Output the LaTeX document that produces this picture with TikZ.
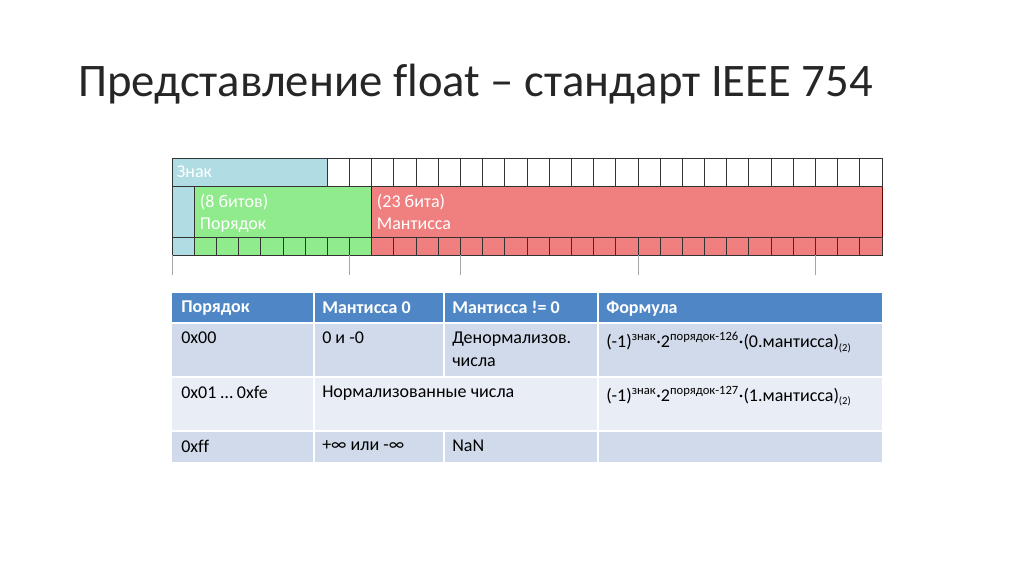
\documentclass[tikz,border=0pt]{standalone}
\usepackage{fontspec}
\setmainfont[Ligatures=NoCommon]{Carlito}
\definecolor{znakfill}{HTML}{B0DCE3}
\definecolor{porfill}{HTML}{90EB8C}
\definecolor{manfill}{HTML}{F08080}
\definecolor{headfill}{HTML}{4F87C6}
\definecolor{rowa}{HTML}{D0DAEA}
\definecolor{rowb}{HTML}{E9EEF6}
\tikzset{
  cell/.style={draw=black!80, line width=0.6pt},
  lbl/.style={anchor=north west, inner sep=2pt, font=\fontsize{13.5}{16.5}\selectfont, text=white, align=left},
  tcell/.style={anchor=north west, inner sep=0pt, font=\fontsize{13.5}{17}\selectfont, align=left},
  thead/.style={tcell, text=white, font=\bfseries\fontsize{13.5}{17}\selectfont},
  tick/.style={draw=black!35, line width=0.6pt}
}
\begin{document}
\begin{tikzpicture}[x=0.75pt,y=-0.75pt]
\useasboundingbox (0,0) rectangle (1024,574);
\def\cw{22.1875}
% title
\node[anchor=west, inner sep=0pt, font=\fontsize{35}{40}\selectfont, text=black!85] (title) at (78,84) {Представление float – стандарт IEEE 754};
% sign / exponent / mantissa blocks
\fill[znakfill] (172,158) rectangle (327,186);
\fill[znakfill] (172,186) rectangle (194,255);
\fill[porfill] (194,186) rectangle (371,255);
\fill[manfill] (371,186) rectangle (882,255);
\draw[cell] (172,158) rectangle (327,186);
\draw[cell] (172,186) -- (172,255);
\draw[cell] (194,186) rectangle (371,237);
\draw[cell, draw=red!40!black] (371,186) rectangle (882,237);
% top row of free cells
\foreach \i in {7,...,31}
  \draw[cell] ({172+\i*\cw},158) rectangle ({172+(\i+1)*\cw},186);
% bottom row of bits
\foreach \i in {0,...,31}
  \draw[cell] ({172+\i*\cw},237) rectangle ({172+(\i+1)*\cw},255);
\node[lbl] (znak) at (174,163) {Знак};
\node[lbl] (por) at (197,191) {(8 битов)\\Порядок};
\node[lbl] (man) at (374,191) {(23 бита)\\Мантисса};
% ticks
\foreach \i in {0,8,13,21,29}
  \draw[tick] ({172+\i*\cw},255) -- ({172+\i*\cw},275);
% table
\fill[headfill] (172,293) rectangle (882,323);
\fill[rowa] (172,323) rectangle (882,377);
\fill[rowb] (172,377) rectangle (882,431);
\fill[rowa] (172,431) rectangle (882,462);
\foreach \y in {323,377,431}
  \draw[white, line width=1.5pt] (172,\y) -- (882,\y);
\foreach \x in {314,444,598}
  \draw[white, line width=1.5pt] (\x,293) -- (\x,377);
\foreach \x in {314,598}
  \draw[white, line width=1.5pt] (\x,377) -- (\x,431);
\foreach \x in {314,444,598}
  \draw[white, line width=1.5pt] (\x,431) -- (\x,462);
\node[thead] (h1) at (181,301) {Порядок};
\node[thead] (h2) at (322,301) {Мантисса 0};
\node[thead] (h3) at (452,301) {Мантисса != 0};
\node[thead] (h4) at (606,301) {Формула};
\node[tcell] (a1) at (181,332) {0x00};
\node[tcell] (a2) at (322,332) {0 и -0};
\node[tcell] (a3) at (452,332) {Денормализов.\\числа};
\node[tcell] (a4) at (606,332) {(-1)\textsuperscript{знак}·2\textsuperscript{порядок-126}·(0.мантисса)\raisebox{-0.4ex}{\footnotesize(2)}};
\node[tcell] (b1) at (181,386) {0x01 … 0xfe};
\node[tcell] (b2) at (322,386) {Нормализованные числа};
\node[tcell] (b4) at (606,386) {(-1)\textsuperscript{знак}·2\textsuperscript{порядок-127}·(1.мантисса)\raisebox{-0.4ex}{\footnotesize(2)}};
\node[tcell] (c1) at (181,440) {0xff};
\node[tcell] (c2) at (322,440) {+∞ или -∞};
\node[tcell] (c3) at (452,440) {NaN};
\end{tikzpicture}
\end{document}
